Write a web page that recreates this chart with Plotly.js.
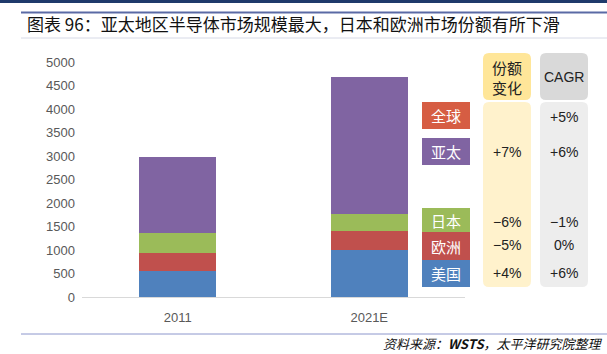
<!DOCTYPE html>
<html>
<head>
<meta charset="utf-8">
<script src="https://cdn.plot.ly/plotly-3.0.1.min.js"></script>
<style>html,body{margin:0;padding:0;background:#fff;}#chart{width:607px;height:354px;}</style>
</head>
<body>
<div id="chart"></div>
<script>
// ---- data ----
const years = ['2011', '2021E'];
const americas = [552, 1006];   // 美国
const europe   = [374, 392];    // 欧洲
const japan    = [435, 374];    // 日本
const apac     = [1610, 2909];  // 亚太
const regionLabels = ['全球', '亚太', '日本', '欧洲', '美国'];
const shareChange  = ['', '+7%', '−6%', '−5%', '+4%'];
const cagr         = ['+5%', '+6%', '−1%', '0%', '+6%'];
const titleText = '图表 96：亚太地区半导体市场规模最大，日本和欧洲市场份额有所下滑';
const sourceText = '资料来源：<b>WSTS</b>，太平洋研究院整理';

// ---- geometry helpers (page pixels -> paper) ----
const W = 607, H = 354;
const M = {l: 82, r: 142, t: 62, b: 57};
const PW = W - M.l - M.r, PH = H - M.t - M.b;
const px = x => (x - M.l) / PW;
const py = y => (H - M.b - y) / PH;

const colors = {americas: '#4F81BD', europe: '#C0504D', japan: '#9BBB59', apac: '#8064A2', global: '#D65D43'};
const boxColors = [colors.global, colors.apac, colors.japan, colors.europe, colors.americas];

const mk = (name, y, c) => ({type: 'bar', name: name, x: years, y: y, marker: {color: c}, hoverinfo: 'x+y+name'});
const traces = [
  mk('美国', americas, colors.americas),
  mk('欧洲', europe, colors.europe),
  mk('日本', japan, colors.japan),
  mk('亚太', apac, colors.apac)
];

function rrect(x0, y0, x1, y1, r, fill) {
  const X0 = px(x0), X1 = px(x1), Y0 = py(y0), Y1 = py(y1);
  const rx = r / PW, ry = r / PH;
  const p = `M${X0 + rx},${Y0} L${X1 - rx},${Y0} Q${X1},${Y0} ${X1},${Y0 - ry} L${X1},${Y1 + ry} Q${X1},${Y1} ${X1 - rx},${Y1} L${X0 + rx},${Y1} Q${X0},${Y1} ${X0},${Y1 + ry} L${X0},${Y0 - ry} Q${X0},${Y0} ${X0 + rx},${Y0} Z`;
  return {type: 'path', xref: 'paper', yref: 'paper', path: p, fillcolor: fill, line: {width: 0}, layer: 'below'};
}
function rect(x0, y0, x1, y1, fill) {
  return {type: 'rect', xref: 'paper', yref: 'paper', x0: px(x0), x1: px(x1), y0: py(y1), y1: py(y0), fillcolor: fill, line: {width: 0}};
}
function hline(x0, x1, y, c, w) {
  return {type: 'line', xref: 'paper', yref: 'paper', x0: px(x0), x1: px(x1), y0: py(y), y1: py(y), line: {color: c, width: w}};
}
function ann(text, x, y, size, color, family, xanchor) {
  return {text: text, xref: 'paper', yref: 'paper', x: px(x), y: py(y), xanchor: xanchor || 'center', yanchor: 'middle',
    showarrow: false, font: {size: size, color: color, family: family}};
}

const cjk = '"Noto Sans CJK SC", "Noto Sans", sans-serif';
const lat = '"Liberation Sans", Arial, sans-serif';

const shapes = [
  rect(0, 0, 607, 3, '#1F3A6B'),
  hline(21, 607, 12.5, '#5A6AA5', 2),
  hline(21, 607, 38, '#D6D9E6', 1),
  hline(21, 607, 334, '#8C96CC', 1),
  rrect(483, 53, 531, 100, 6, '#FFE699'),
  rrect(483, 102, 531, 287, 6, '#FFF2CC'),
  rrect(540, 53, 588, 100, 6, '#D9D9D9'),
  rrect(540, 102, 588, 287, 6, '#EDEDED')
];
const boxRows = [[102, 129], [138, 165], [208, 232], [232, 260], [260, 287]];
const rowY = [117, 152, 222, 245, 273];
boxRows.forEach((b, i) => shapes.push(rect(422, b[0], 470, b[1], boxColors[i])));

const annotations = [
  ann(titleText, 25, 23, 17, '#111', cjk, 'left'),
  ann('份额<br>变化', 507, 77, 15, '#222', cjk),
  ann('CAGR', 564, 77, 14, '#222', lat),
  {text: sourceText, xref: 'paper', yref: 'paper', x: px(605), y: py(343), xanchor: 'right', yanchor: 'middle', showarrow: false,
    font: {size: 13, color: '#111', family: cjk, style: 'italic'}}
];
boxRows.forEach((b, i) => annotations.push(ann(regionLabels[i], 446, (b[0] + b[1]) / 2, 15, '#fff', cjk)));
rowY.forEach((y, i) => {
  if (shareChange[i]) annotations.push(ann(shareChange[i], 507, y, 14, '#222', lat));
  annotations.push(ann(cagr[i], 564, y, 14, '#222', lat));
});

const layout = {
  width: W, height: H,
  margin: M,
  paper_bgcolor: '#fff', plot_bgcolor: '#fff',
  barmode: 'stack', bargap: 0.6,
  showlegend: false,
  xaxis: {type: 'category', range: [-0.5, 1.5], showgrid: false, zeroline: false, showline: true, linecolor: '#D9D9D9', linewidth: 1,
    ticks: 'outside', ticklen: 8, tickcolor: 'rgba(0,0,0,0)', tickfont: {size: 13, color: '#595959', family: lat}},
  yaxis: {range: [0, 5000], dtick: 500, showgrid: false, zeroline: false, showline: false, ticks: '',
    ticklabelstandoff: 6, tickfont: {size: 13, color: '#595959', family: lat}},
  shapes: shapes,
  annotations: annotations
};

Plotly.newPlot('chart', traces, layout, {displayModeBar: false, staticPlot: true});
</script>
</body>
</html>
